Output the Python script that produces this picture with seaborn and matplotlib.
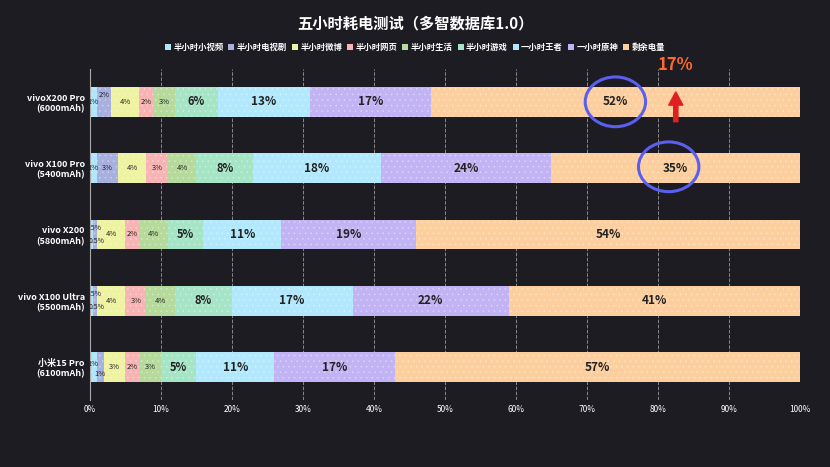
import numpy as np
import pandas as pd
import seaborn as sns
import matplotlib.pyplot as plt
from matplotlib.patches import Ellipse, FancyArrow

plt.rcParams["font.family"] = ["Noto Sans CJK JP", "Noto Sans CJK SC", "DejaVu Sans"]
plt.rcParams["hatch.linewidth"] = 0.4

phones = ["vivoX200 Pro\n(6000mAh)", "vivo X100 Pro\n(5400mAh)", "vivo X200\n(5800mAh)",
          "vivo X100 Ultra\n(5500mAh)", "小米15 Pro\n(6100mAh)"]
series = ["半小时小视频", "半小时电视剧", "半小时微博", "半小时网页", "半小时生活",
          "半小时游戏", "一小时王者", "一小时原神", "剩余电量"]
values = [
    [1, 2, 4, 2, 3, 6, 13, 17, 52],
    [1, 3, 4, 3, 4, 8, 18, 24, 35],
    [0.5, 0.5, 4, 2, 4, 5, 11, 19, 54],
    [0.5, 0.5, 4, 3, 4, 8, 17, 22, 41],
    [1, 1, 3, 2, 3, 5, 11, 17, 57],
]
colors = ["#aee6fa", "#a7b0de", "#eef3a2", "#f8b4b4", "#b6da9b",
          "#a6e4c6", "#b2e8fd", "#c2b4f4", "#fdcf9f"]

bg = "#1e1c23"
fig = plt.figure(figsize=(8.3, 4.67), dpi=100, facecolor=bg)
ax = fig.add_axes([0.108, 0.143, 0.856, 0.71], facecolor=bg)

vals = np.array(values)
cum = np.cumsum(vals, axis=1)
for j in range(len(series) - 1, -1, -1):
    df = pd.DataFrame({"phone": phones, "v": cum[:, j]})
    sns.barplot(data=df, x="v", y="phone", orient="h", color=colors[j], width=0.45,
                saturation=1, ax=ax, label=series[j])
for p in ax.patches:
    p.set_hatch("...")
    p.set_edgecolor((1, 1, 1, 0.35))
    p.set_linewidth(0)

for i in range(len(phones)):
    for j in range(len(series)):
        v = vals[i, j]
        x = cum[i, j] - v / 2
        if v < 1:
            dy = -0.1 if j == 0 else 0.1
            ax.text(x + 0.3, i + dy, f"{v:g}%", ha="center", va="center", fontsize=5, color="#222")
            continue
        dy = 0
        if j == 1 and v <= 2:
            dy = 0.1 if vals[i, 0] == v else -0.1
        if j == 0 and vals[i, 1] == v:
            dy = -0.05
        fs = 5.5 if v < 5 else (8 if v < 10 else 8.5)
        ax.text(x, i + dy, f"{v:g}%", ha="center", va="center", fontsize=fs, color="#222",
                fontweight="bold" if v >= 5 else "normal")

ax.set_xlim(0, 100)
ax.set_xticks(range(0, 101, 10))
ax.set_xticklabels([f"{t}%" for t in range(0, 101, 10)], color="white", fontsize=6)
ax.set_yticks(range(len(phones)))
ax.set_yticklabels(phones, color="white", fontsize=6.5, fontweight="bold")
ax.tick_params(length=0)
ax.set_xlabel("")
ax.set_ylabel("")
ax.grid(axis="x", linestyle="--", color="#888", linewidth=0.7)
ax.set_axisbelow(True)
for s in ["top", "right", "bottom"]:
    ax.spines[s].set_visible(False)
ax.spines["left"].set_color("#aaa")
ax.set_ylim(4.5, -0.5)

handles, labels = ax.get_legend_handles_labels()
if ax.get_legend() is not None:
    ax.get_legend().remove()
order = [labels.index(s) for s in series]
leg = fig.legend([handles[k] for k in order], series, loc="upper center", bbox_to_anchor=(0.5, 0.925),
                 ncol=9, frameon=False, labelcolor="white", handlelength=0.7,
                 handleheight=0.7, columnspacing=0.6, handletextpad=0.3,
                 prop={"weight": "bold", "size": 6})
for h in leg.legend_handles:
    h.set_hatch("")

fig.text(0.5, 0.95, "五小时耗电测试（多智数据库1.0）", ha="center", va="center",
         color="white", fontsize=11, fontweight="bold")

# annotations
ax.add_patch(Ellipse((74, 0.0), 8.5, 0.75, fill=False, edgecolor="#5b5ff0", linewidth=2.2))
ax.add_patch(Ellipse((81.5, 0.98), 8.5, 0.75, fill=False, edgecolor="#5b5ff0", linewidth=2.2))
ax.text(82.5, -0.55, "17%", color="#ff6a2a", fontsize=12, fontweight="bold", ha="center", va="center", clip_on=False)
ax.add_patch(FancyArrow(82.5, 0.3, 0, -0.45, width=0.6, head_width=2.0, head_length=0.2,
                        color="#e02020", length_includes_head=True))

fig.savefig("out.png", dpi=100, facecolor=bg)
